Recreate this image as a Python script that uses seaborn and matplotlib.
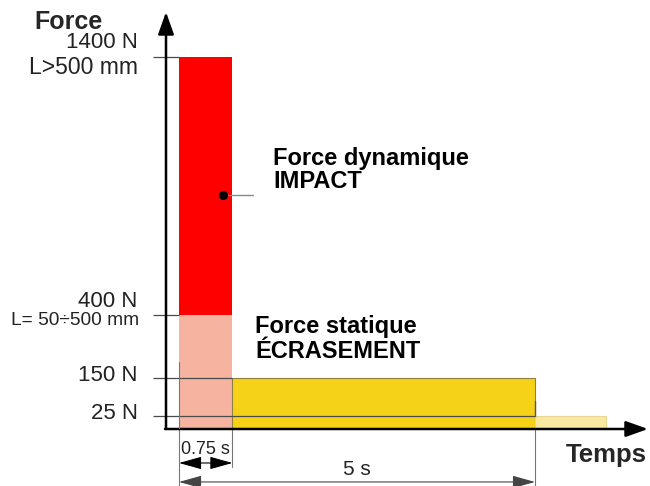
import numpy as np
import matplotlib
matplotlib.use("Agg")
import matplotlib.pyplot as plt
import matplotlib.transforms as mtransforms
import seaborn as sns

sns.set_theme(style="white")
plt.rcParams['font.family'] = ['Liberation Sans', 'DejaVu Sans']

# ------------------------------------------------------------------------
# Data: force limits (N) and time limits (s)
# ------------------------------------------------------------------------
force_levels = [25, 150, 400, 1400]
force_labels = ["25 N", "150 N", "400 N", "1400 N"]
length_labels = ["", "", "L= 50÷500 mm", "L>500 mm"]

t_impact = 0.75
t_static = 5.0
t_residual = 6.0

# zones of the diagram: start/end in time, bottom/top in force
zone_start = [0.0, 0.0, t_impact, t_static]
zone_end = [t_impact, t_impact, t_static, t_residual]
zone_bottom = [400, 0, 0, 0]
zone_top = [1400, 400, 150, 25]
zone_colors = ['#FE0000', '#F6B3A0', '#F5D218', '#F8E8A2']
zone_edges = ['none', 'none', '#8f8040', '#e8d890']

# ------------------------------------------------------------------------
# Figure / axes set-up (schematic, piecewise force axis)
# ------------------------------------------------------------------------
fig = plt.figure(figsize=(6.5, 4.86), dpi=100)
ax = fig.add_axes([166 / 650, 57 / 486, 482 / 650, 417 / 486])

knots_f = [0, 25, 150, 400, 1400, 2000]
knots_p = [0, 13, 51, 114, 372, 527]


def fwd(v):
    return np.interp(v, knots_f, knots_p)


def inv(p):
    return np.interp(p, knots_p, knots_f)


ax.set_yscale('function', functions=(fwd, inv))
ax.set_ylim(0, float(inv(417)))
ax.set_xlim(-13 / 71.2, 469 / 71.2)
ax.axis('off')

# zones
for x0, x1, b, t, c, e in zip(zone_start, zone_end, zone_bottom, zone_top,
                              zone_colors, zone_edges):
    ax.bar(x0, t - b, bottom=b, width=x1 - x0, align='edge', color=c,
           edgecolor=e, linewidth=0.8, zorder=2)

# level lines (tick + guide across the zones below)
tick_x = -0.365
for lev in force_levels:
    ends = [x1 for x1, b, t in zip(zone_end, zone_bottom, zone_top) if b < lev < t]
    end = max(ends) if ends else 0.0
    ax.plot([tick_x, end], [lev, lev], color='#4a4a4a', lw=0.9, zorder=3,
            clip_on=False, solid_capstyle='butt')

# force labels on the left
ytrans = mtransforms.blended_transform_factory(ax.transAxes, ax.transData)
for lev, lab, sub in zip(force_levels, force_labels, length_labels):
    if sub:
        dy = 10.5 if lev > 1000 else 9.5
        ax.annotate(lab, xy=(0, lev), xycoords=ytrans, xytext=(-20.5, dy),
                    textcoords='offset points', ha='right', va='center',
                    fontsize=16, color='#222222', annotation_clip=False)
        fs = 16.5 if lev > 1000 else 13.8
        dy2 = -7.5 if lev > 1000 else -3.8
        ax.annotate(sub, xy=(0, lev), xycoords=ytrans,
                    xytext=(-20.5 + (0 if lev > 1000 else 1.3), dy2),
                    textcoords='offset points', ha='right', va='center',
                    fontsize=fs, color='#222222', annotation_clip=False)
    else:
        ax.annotate(lab, xy=(0, lev), xycoords=ytrans, xytext=(-20.5, 1.8),
                    textcoords='offset points', ha='right', va='center',
                    fontsize=16, color='#222222', annotation_clip=False)

# axes with arrows
arrow_kw = dict(arrowstyle='-|>,head_length=0.9,head_width=0.32', color='black',
                lw=1.8, shrinkA=0, shrinkB=0, mutation_scale=15)
ax.annotate('', xy=(0, 1), xytext=(0, 0), xycoords='axes fraction',
            arrowprops=arrow_kw, annotation_clip=False)
ax.annotate('', xy=(1, 0), xytext=(-0.002, 0), xycoords='axes fraction',
            arrowprops=arrow_kw, annotation_clip=False)

# dimension lines below the time axis
xtrans = mtransforms.blended_transform_factory(ax.transData, ax.transAxes)
ax.plot([0, 0], [213, 0], color='#777777', lw=0.8, zorder=3)
ax.plot([0, 0], [0, -0.137], color='#777777', lw=0.8, transform=xtrans, clip_on=False)
ax.plot([t_impact, t_impact], [0, -0.09], color='#777777', lw=0.8,
        transform=xtrans, clip_on=False)
ax.plot([t_static, t_static], [25, 75], color='#555555', lw=1.0, zorder=3)
ax.plot([t_static, t_static], [0, -0.137], color='#777777', lw=0.8,
        transform=xtrans, clip_on=False)

dim_kw = dict(arrowstyle='<|-|>,head_length=1.0,head_width=0.28', color='black',
              lw=0.8, shrinkA=0, shrinkB=0, mutation_scale=14)
ax.annotate('', xy=(0, -0.0815), xytext=(t_impact, -0.0815), xycoords=xtrans,
            arrowprops=dim_kw, annotation_clip=False)
dim_kw2 = dict(dim_kw, color='#444444')
ax.annotate('', xy=(0, -0.127), xytext=(t_static, -0.127), xycoords=xtrans,
            arrowprops=dim_kw2, annotation_clip=False)
ax.text(t_impact / 2, -0.048, "0.75 s", transform=xtrans, ha='center', va='center',
        fontsize=13, color='#222222')
ax.text(t_static / 2, -0.098, "5 s", transform=xtrans, ha='center', va='center',
        fontsize=15, color='#222222')

# annotations
ax.plot([0.618, 1.04], [865, 865], color='#888888', lw=1.0, zorder=4)
ax.plot(0.618, 865, 'o', color='black', ms=5.5, zorder=5)
ax.text(1.32, 962, "Force dynamique\nIMPACT", fontsize=17, fontweight='bold',
        ha='left', va='center', linespacing=1.02, color='black')
ax.text(1.07, 305, "Force statique\nÉCRASEMENT", fontsize=17, fontweight='bold',
        ha='left', va='center', linespacing=1.08, color='black')

fig.text(69 / 650, 1 - 22 / 486, "Force", fontsize=18, fontweight='bold',
         ha='center', va='center')
fig.text(647 / 650, 1 - 455 / 486, "Temps", fontsize=18.5, fontweight='bold',
         ha='right', va='center')

fig.savefig("out.png", dpi=100)
plt.close(fig)
